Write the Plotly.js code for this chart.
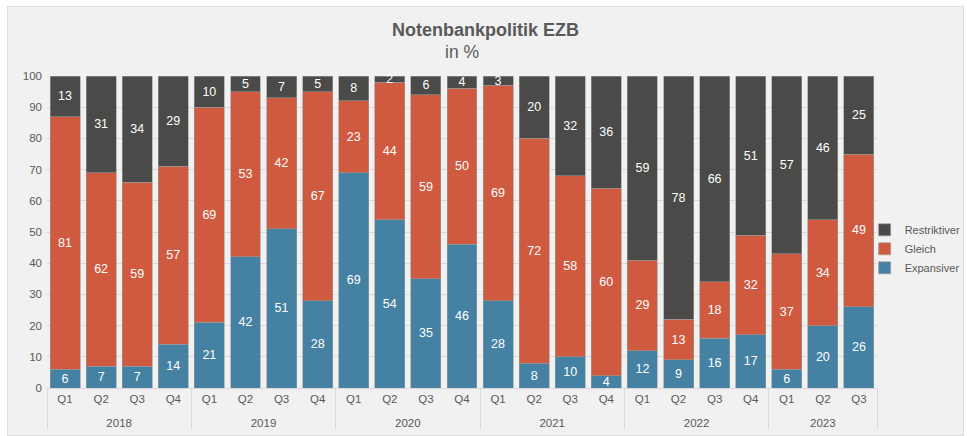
<!DOCTYPE html>
<html>
<head>
<meta charset="utf-8">
<script src="https://cdn.plot.ly/plotly-3.0.1.min.js"></script>
<style>
  body { margin: 0; background: #ffffff; }
  #box {
    position: absolute; left: 7px; top: 6px;
    width: 955px; height: 428px;
    background: #f1f1f1; border: 1px solid #dddddd;
  }
  #chart { width: 955px; height: 428px; }
</style>
</head>
<body>
<div id="box"><div id="chart"></div></div>
<script>
var years = ['2018', '2018', '2018', '2018', '2019', '2019', '2019', '2019',
    '2020', '2020', '2020', '2020', '2021', '2021', '2021', '2021',
    '2022', '2022', '2022', '2022', '2023', '2023', '2023'];
var quarters = ['Q1', 'Q2', 'Q3', 'Q4', 'Q1', 'Q2', 'Q3', 'Q4',
    'Q1', 'Q2', 'Q3', 'Q4', 'Q1', 'Q2', 'Q3', 'Q4',
    'Q1', 'Q2', 'Q3', 'Q4', 'Q1', 'Q2', 'Q3'];

var expansiver = [6, 7, 7, 14, 21, 42, 51, 28, 69, 54, 35, 46, 28, 8, 10, 4, 12, 9, 16, 17, 6, 20, 26];
var gleich = [81, 62, 59, 57, 69, 53, 42, 67, 23, 44, 59, 50, 69, 72, 58, 60, 29, 13, 18, 32, 37, 34, 49];
var restriktiver = [13, 31, 34, 29, 10, 5, 7, 5, 8, 2, 6, 4, 3, 20, 32, 36, 59, 78, 66, 51, 57, 46, 25];

// small blank second line under the quarter labels pushes the year row down a bit
var quarterLabels = quarters.map(function (q) { return q + '<br><sup>&nbsp;</sup>'; });

function makeTrace(name, values, color) {
    return {
        x: [years, quarterLabels],
        y: values,
        name: name,
        type: 'bar',
        marker: { color: color, line: { color: '#9a9a9a', width: 0.6 } },
        text: values.map(String),
        textposition: 'inside',
        insidetextanchor: 'middle',
        textangle: 0,
        constraintext: 'none',
        textfont: { color: '#ffffff', size: 12.5 },
        cliponaxis: false,
        hoverinfo: 'y+name'
    };
}

var data = [
    makeTrace('Expansiver', expansiver, '#4581a3'),
    makeTrace('Gleich', gleich, '#d05a3f'),
    makeTrace('Restriktiver', restriktiver, '#4a4a48')
];

var layout = {
    barmode: 'stack',
    bargap: 0.17,
    width: 955,
    height: 428,
    margin: { l: 39, r: 86, t: 69, b: 47, pad: 0, autoexpand: false },
    paper_bgcolor: '#f1f1f1',
    plot_bgcolor: '#f1f1f1',
    font: { family: 'Liberation Sans, Arial, sans-serif', color: '#595959', size: 11.5 },
    title: {
        text: '<b>Notenbankpolitik EZB</b>',
        x: 0.5,
        xanchor: 'center',
        y: 1 - 23 / 428,
        yanchor: 'middle',
        font: { size: 18, color: '#595959' }
    },
    annotations: [{
        text: 'in %',
        xref: 'paper', yref: 'paper',
        x: 0.5, y: 1 + 24 / 312,
        xanchor: 'center', yanchor: 'middle',
        showarrow: false,
        font: { size: 17.5, color: '#595959' }
    }],
    yaxis: {
        range: [0, 100],
        dtick: 10,
        showgrid: true,
        gridcolor: '#d9d9d9',
        zeroline: false,
        ticks: '',
        ticklabelstandoff: 4,
        fixedrange: true,
        automargin: false
    },
    xaxis: {
        type: 'multicategory',
        showgrid: false,
        showline: true,
        linecolor: '#d9d9d9',
        showdividers: true,
        dividercolor: '#d9d9d9',
        dividerwidth: 1,
        tickfont: { size: 11.5, color: '#595959' },
        automargin: false
    },
    legend: {
        xref: 'container',
        yref: 'container',
        x: 0.897,
        xanchor: 'left',
        y: 0.435,
        yanchor: 'middle',
        bgcolor: 'rgba(0,0,0,0)',
        font: { size: 11, color: '#595959' },
        itemwidth: 30,
        tracegroupgap: 0
    },
    showlegend: true
};

Plotly.newPlot('chart', data, layout, { displayModeBar: false, staticPlot: true });
</script>
</body>
</html>
